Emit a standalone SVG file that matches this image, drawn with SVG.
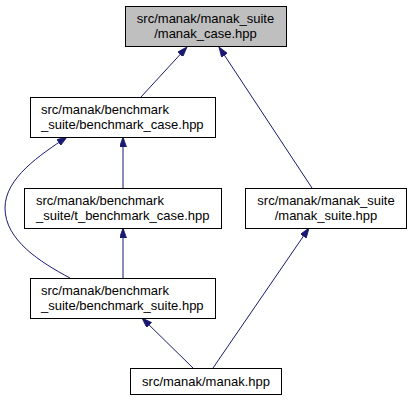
<svg xmlns="http://www.w3.org/2000/svg" width="411" height="400" viewBox="0 0 411 400">
<style>
.box{fill:#ffffff;stroke:#000000;stroke-width:1}
.root{fill:#bfbfbf}
.t{font-family:"Liberation Sans",Arial,sans-serif;font-size:13px;fill:#000000}
.m{text-anchor:middle}
.e{fill:none;stroke:#191970;stroke-width:1}
</style>
<defs>
<marker id="ah" viewBox="0 0 10 7" refX="10" refY="3.5" markerUnits="userSpaceOnUse" markerWidth="10" markerHeight="7" orient="auto">
<path d="M0,0 L10,3.5 L0,7 z" fill="#191970" stroke="#191970" stroke-width="0.8"/>
</marker>
</defs>
<rect width="411" height="400" fill="#ffffff"/>
<g id="edges">
<path class="e" marker-end="url(#ah)" d="M141,97 L187,47"/>
<path class="e" marker-end="url(#ah)" d="M312,188 L219,47"/>
<path class="e" marker-end="url(#ah)" d="M123,188 L123,137"/>
<path class="e" marker-end="url(#ah)" d="M123,278 L123,228"/>
<path class="e" marker-end="url(#ah)" d="M70,278 C40,262 5,240 5,208 C5,178 40,155 67,137"/>
<path class="e" marker-end="url(#ah)" d="M193,368 L142,318"/>
<path class="e" marker-end="url(#ah)" d="M213,368 L309,228"/>
</g>
<g id="node_manak_case">
<rect class="box root" x="125.5" y="6.5" width="161" height="40"/>
<text class="t m" x="205.5" y="23">src/manak/manak_suite</text>
<text class="t m" x="205.5" y="38">/manak_case.hpp</text>
</g>
<g id="node_benchmark_case">
<rect class="box" x="30.5" y="97.5" width="185" height="40"/>
<text class="t" x="41" y="114">src/manak/benchmark</text>
<text class="t" x="41" y="129">_suite/benchmark_case.hpp</text>
</g>
<g id="node_t_benchmark_case">
<rect class="box" x="24.5" y="188.5" width="197" height="40"/>
<text class="t" x="36" y="205">src/manak/benchmark</text>
<text class="t" x="36" y="220">_suite/t_benchmark_case.hpp</text>
</g>
<g id="node_manak_suite">
<rect class="box" x="245.5" y="188.5" width="161" height="40"/>
<text class="t m" x="326" y="205">src/manak/manak_suite</text>
<text class="t m" x="326" y="220">/manak_suite.hpp</text>
</g>
<g id="node_benchmark_suite">
<rect class="box" x="30.5" y="278.5" width="185" height="40"/>
<text class="t" x="41" y="295">src/manak/benchmark</text>
<text class="t" x="41" y="310">_suite/benchmark_suite.hpp</text>
</g>
<g id="node_manak">
<rect class="box" x="130.5" y="368.5" width="151" height="26"/>
<text class="t m" x="206" y="386">src/manak/manak.hpp</text>
</g>
</svg>
